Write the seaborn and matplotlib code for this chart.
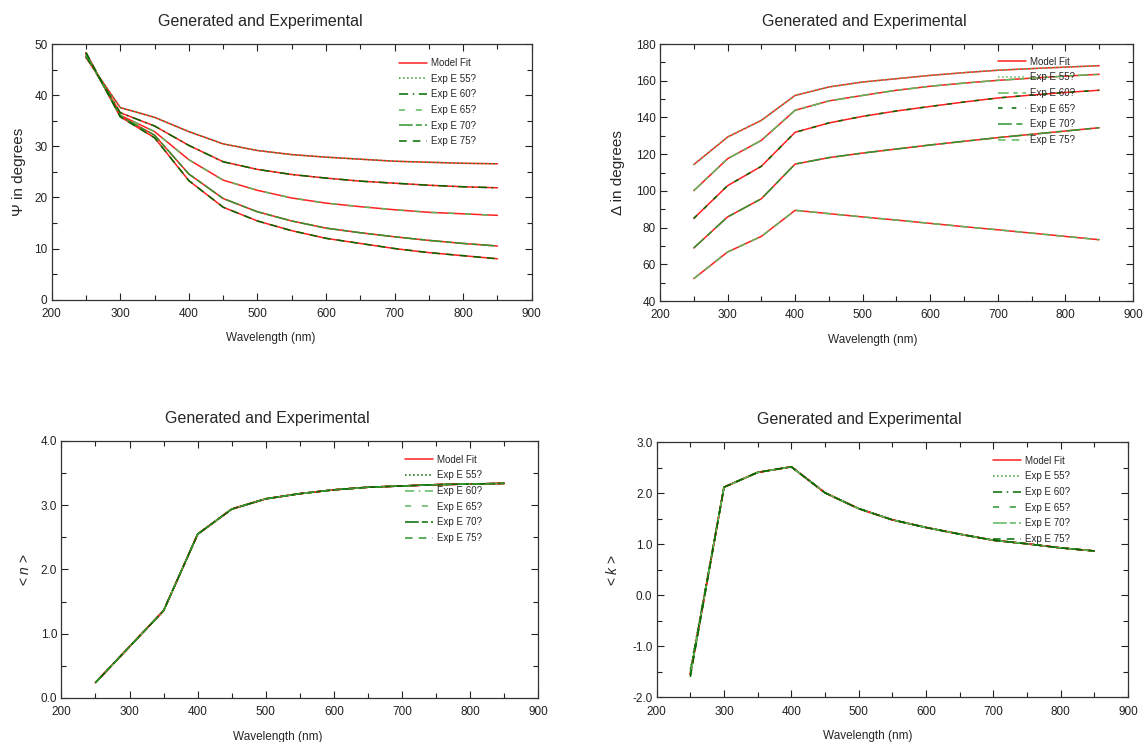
import matplotlib
matplotlib.use("Agg")
import matplotlib.pyplot as plt
import seaborn as sns
from matplotlib.ticker import MultipleLocator, FormatStrFormatter

# wavelengths (nm)
wl = [250, 300, 350, 400, 450, 500, 550, 600, 650, 700, 750, 800, 850]
angles = [55, 60, 65, 70, 75]

# Psi (deg) per angle of incidence
psi_55 = [47.4, 37.6, 35.7, 32.9, 30.5, 29.2, 28.4, 27.9, 27.5, 27.1, 26.9, 26.7, 26.6]
psi_60 = [47.7, 36.6, 34.0, 30.2, 27.0, 25.5, 24.5, 23.8, 23.2, 22.8, 22.4, 22.1, 21.9]
psi_65 = [48.0, 36.1, 32.9, 27.4, 23.4, 21.4, 19.9, 18.9, 18.2, 17.6, 17.1, 16.8, 16.5]
psi_70 = [48.2, 35.9, 32.2, 24.6, 19.8, 17.2, 15.4, 14.0, 13.1, 12.3, 11.6, 11.0, 10.5]
psi_75 = [48.4, 35.8, 31.7, 23.3, 18.1, 15.4, 13.5, 12.0, 11.0, 10.0, 9.2, 8.6, 8.0]

# Delta (deg) per angle of incidence
delta_55 = [114.3, 129.3, 138.4, 152.0, 156.6, 159.3, 161.1, 162.9, 164.4, 165.7, 166.6, 167.4, 168.2]
delta_60 = [100.1, 117.5, 127.5, 143.9, 149.0, 152.0, 154.8, 157.0, 158.7, 160.2, 161.4, 162.5, 163.5]
delta_65 = [85.0, 102.8, 113.4, 131.9, 137.0, 140.6, 143.5, 146.0, 148.4, 150.6, 152.2, 153.6, 154.8]
delta_70 = [68.9, 85.8, 95.7, 114.6, 118.1, 120.6, 122.8, 125.0, 127.0, 129.0, 130.8, 132.6, 134.4]
delta_75 = [52.2, 66.7, 75.2, 89.4, 87.6, 85.8, 84.1, 82.3, 80.5, 78.8, 77.0, 75.2, 73.4]

# pseudo optical constants
n_fit = [0.24, 0.80, 1.36, 2.55, 2.94, 3.10, 3.18, 3.24, 3.28, 3.30, 3.32, 3.33, 3.34]
k_fit = [-1.55, 2.12, 2.41, 2.52, 2.01, 1.70, 1.48, 1.33, 1.20, 1.08, 1.01, 0.93, 0.87]
k_start_exp = [-1.45, -1.50, -1.55, -1.58, -1.60]

psi_all = [psi_55, psi_60, psi_65, psi_70, psi_75]
delta_all = [delta_55, delta_60, delta_65, delta_70, delta_75]
n_all = [n_fit] * 5
k_all = [[k0] + k_fit[1:] for k0 in k_start_exp]

sns.set_theme(style="ticks")
plt.rcParams["font.family"] = ["Liberation Sans", "DejaVu Sans"]
plt.rcParams["mathtext.fontset"] = "custom"
plt.rcParams["mathtext.it"] = "Liberation Sans:italic"
plt.rcParams["mathtext.rm"] = "Liberation Sans"
plt.rcParams["axes.unicode_minus"] = False

# per panel line styles for the experimental curves (55..75)
dk, md, lt = "#006a00", "#2f962f", "#5cb85c"
styles_tl = [(md, ":"), (dk, (0, (6, 3, 1, 3))), (lt, (0, (4, 7))), (md, (0, (9, 2, 4, 2))), (dk, (0, (5, 4)))]
styles_tr = [(lt, ":"), (lt, (0, (7, 3, 3, 3))), (dk, (0, (3, 6))), (md, (0, (9, 3, 4, 3))), (lt, (0, (5, 4)))]
styles_bl = [(dk, ":"), (lt, (0, (6, 3, 1, 3))), (lt, (0, (4, 7))), (dk, (0, (9, 2, 4, 2))), (md, (0, (5, 4)))]
styles_br = [(md, ":"), (dk, (0, (6, 3, 1, 3))), (md, (0, (4, 7))), (lt, (0, (9, 2, 4, 2))), (dk, (0, (5, 4)))]

fig = plt.figure(figsize=(11.46, 7.42), dpi=100)

panels = [
    # rect, data, model, ylabel, ylim, major, minor, fmt, styles, legend anchor, ylabel size, ylabel pad, title x, xlabel x
    ([0.0451, 0.5962, 0.4189, 0.3441], psi_all, psi_all, "Ψ in degrees", (0, 50), 10, 5, "%d", styles_tl, (0.724, 0.946), 11, 6, 0.434, 0.457),
    ([0.5759, 0.5943, 0.4127, 0.3464], delta_all, delta_all, "Δ in degrees", (40, 180), 20, 10, "%d", styles_tr, (0.715, 0.950), 11, 8, 0.431, 0.450),
    ([0.0536, 0.0593, 0.4162, 0.3464], n_all, [n_fit] * 5, r"< $\mathit{n}$ >", (0, 4), 1, 0.5, "%.1f", styles_bl, (0.720, 0.946), 10, 6, 0.431, 0.454),
    ([0.5730, 0.0602, 0.4113, 0.3437], k_all, [k_fit] * 5, r"< $\mathit{k}$ >", (-2, 3), 1, 0.5, "%.1f", styles_br, (0.7135, 0.947), 10, 9, 0.429, 0.448),
]

for rect, exp_data, model_data, ylab, ylim, maj, mnr, fmt, styles, anchor, ylsize, ylpad, tx, xx in panels:
    ax = fig.add_axes(rect)
    for i, ys in enumerate(model_data):
        sns.lineplot(x=wl, y=ys, ax=ax, color="#ff2020", lw=1.1,
                     label="Model Fit" if i == 0 else "_nolegend_")
    for i, (ang, ys) in enumerate(zip(angles, exp_data)):
        col, ls = styles[i]
        sns.lineplot(x=wl, y=ys, ax=ax, color=col, linestyle=ls, lw=1.1,
                     label=f"Exp E {ang}?")
    ax.set_xlim(200, 900)
    ax.set_ylim(*ylim)
    ax.xaxis.set_major_locator(MultipleLocator(100))
    ax.xaxis.set_minor_locator(MultipleLocator(50))
    ax.yaxis.set_major_locator(MultipleLocator(maj))
    ax.yaxis.set_minor_locator(MultipleLocator(mnr))
    ax.yaxis.set_major_formatter(FormatStrFormatter(fmt))
    ax.tick_params(which="both", direction="in", top=True, right=True,
                   labelsize=8.5, colors="#222222", width=0.8)
    ax.tick_params(which="major", length=5)
    ax.tick_params(which="minor", length=3.5)
    ax.tick_params(axis="x", pad=6)
    ax.tick_params(axis="y", pad=3)
    for sp in ax.spines.values():
        sp.set_color("#333333")
        sp.set_linewidth(0.9)
    ax.set_title("Generated and Experimental", fontsize=11.5, pad=13, x=tx)
    ax.set_xlabel("Wavelength (nm)", fontsize=8.5, labelpad=9, x=xx)
    ax.set_ylabel(ylab, fontsize=ylsize, labelpad=ylpad)
    ax.legend(loc="upper left", bbox_to_anchor=anchor, frameon=False, fontsize=7,
              handlelength=2.9, handletextpad=0.4, labelspacing=0.58, borderpad=0,
              borderaxespad=0)

fig.savefig("out.png", dpi=100)
